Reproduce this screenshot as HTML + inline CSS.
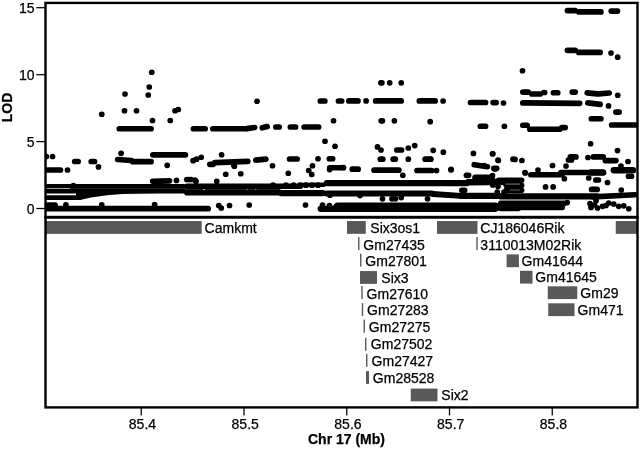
<!DOCTYPE html>
<html><head><meta charset="utf-8"><title>LOD plot Chr 17</title>
<style>
html,body{margin:0;padding:0;background:#fff;}
svg{display:block}
svg text{font-family:"Liberation Sans",sans-serif;font-size:14px;fill:#000;stroke:#000;stroke-width:0.25px}
</style></head><body>
<svg width="640" height="452" viewBox="0 0 640 452">
<rect width="640" height="452" fill="#fff"/>
<defs><clipPath id="cp"><rect x="45" y="2" width="593" height="215"/></clipPath></defs>
<g clip-path="url(#cp)">
<g fill="#000" stroke="none">
<circle cx="151.75" cy="72.25" r="2.85"/>
<circle cx="149.25" cy="87" r="2.85"/>
<circle cx="148.25" cy="95" r="2.85"/>
<circle cx="125" cy="94" r="2.85"/>
<circle cx="124.5" cy="110.75" r="2.85"/>
<circle cx="136.5" cy="110.75" r="2.85"/>
<circle cx="101.75" cy="114.25" r="2.85"/>
<circle cx="175" cy="110.75" r="2.85"/>
<circle cx="178.25" cy="109.5" r="2.85"/>
<circle cx="152.5" cy="120.5" r="2.85"/>
<circle cx="170.25" cy="120.5" r="2.85"/>
<circle cx="121.1" cy="153.3" r="2.85"/>
<circle cx="46.3" cy="156.5" r="2.85"/>
<circle cx="52.5" cy="156.5" r="2.85"/>
<circle cx="98.5" cy="166.9" r="2.85"/>
<circle cx="67.5" cy="170" r="2.85"/>
<circle cx="167.2" cy="165.3" r="2.85"/>
<circle cx="176.5" cy="180.4" r="2.85"/>
<circle cx="186.8" cy="179.5" r="2.85"/>
<circle cx="189" cy="179.5" r="2.85"/>
<circle cx="196" cy="181.25" r="2.85"/>
<circle cx="73.4" cy="185.6" r="2.85"/>
<circle cx="273" cy="185.2" r="2.85"/>
<circle cx="286" cy="185.2" r="2.85"/>
<circle cx="293.5" cy="185.2" r="2.85"/>
<circle cx="300" cy="185.2" r="2.85"/>
<circle cx="306" cy="185.2" r="2.85"/>
<circle cx="312" cy="185.2" r="2.85"/>
<circle cx="318" cy="185.2" r="2.85"/>
<circle cx="65.9" cy="204.9" r="2.85"/>
<circle cx="101.75" cy="204.9" r="2.85"/>
<circle cx="154.6" cy="204.5" r="2.85"/>
<circle cx="257" cy="101.25" r="2.85"/>
<circle cx="333.5" cy="120.75" r="2.85"/>
<circle cx="325" cy="141.25" r="2.85"/>
<circle cx="335" cy="146.25" r="2.85"/>
<circle cx="221.6" cy="154.75" r="2.85"/>
<circle cx="193.1" cy="160.7" r="2.85"/>
<circle cx="196.5" cy="159.2" r="2.85"/>
<circle cx="201.25" cy="157.25" r="2.85"/>
<circle cx="234.4" cy="166.25" r="2.85"/>
<circle cx="318" cy="158.75" r="2.85"/>
<circle cx="233.75" cy="165" r="2.85"/>
<circle cx="272.5" cy="165.75" r="2.85"/>
<circle cx="312.5" cy="165.75" r="2.85"/>
<circle cx="308.75" cy="170.5" r="2.85"/>
<circle cx="311.75" cy="174.5" r="2.85"/>
<circle cx="225.75" cy="174.25" r="2.85"/>
<circle cx="240.75" cy="173.75" r="2.85"/>
<circle cx="288.25" cy="173.25" r="2.85"/>
<circle cx="329.6" cy="169.6" r="2.85"/>
<circle cx="191" cy="179.5" r="2.85"/>
<circle cx="195" cy="180" r="2.85"/>
<circle cx="216.75" cy="181.25" r="2.85"/>
<circle cx="218.75" cy="205.5" r="2.85"/>
<circle cx="221.25" cy="208" r="2.85"/>
<circle cx="229.5" cy="205.5" r="2.85"/>
<circle cx="249.25" cy="205" r="2.85"/>
<circle cx="305.5" cy="205" r="2.85"/>
<circle cx="322.5" cy="205" r="2.85"/>
<circle cx="329.5" cy="205.6" r="2.85"/>
<circle cx="380.9" cy="82.8" r="2.85"/>
<circle cx="381.9" cy="82.8" r="2.85"/>
<circle cx="389.7" cy="82.8" r="2.85"/>
<circle cx="401.25" cy="82.8" r="2.85"/>
<circle cx="366.1" cy="100.9" r="2.85"/>
<circle cx="443.1" cy="101" r="2.85"/>
<circle cx="503.5" cy="103" r="2.85"/>
<circle cx="381.2" cy="120.8" r="2.85"/>
<circle cx="382.4" cy="120.8" r="2.85"/>
<circle cx="394.4" cy="120.8" r="2.85"/>
<circle cx="430.2" cy="121.7" r="2.85"/>
<circle cx="504.4" cy="126.25" r="2.85"/>
<circle cx="377.5" cy="146.9" r="2.85"/>
<circle cx="381" cy="150" r="2.85"/>
<circle cx="408.3" cy="148" r="2.85"/>
<circle cx="414.7" cy="145.6" r="2.85"/>
<circle cx="433.2" cy="150.3" r="2.85"/>
<circle cx="443.3" cy="152.2" r="2.85"/>
<circle cx="473.4" cy="153.4" r="2.85"/>
<circle cx="492.8" cy="153.75" r="2.85"/>
<circle cx="408.3" cy="159.2" r="2.85"/>
<circle cx="430.8" cy="159.2" r="2.85"/>
<circle cx="498.3" cy="160.5" r="2.85"/>
<circle cx="402.8" cy="175.3" r="2.85"/>
<circle cx="436.5" cy="170.6" r="2.85"/>
<circle cx="451.1" cy="169.8" r="2.85"/>
<circle cx="330" cy="195.2" r="2.85"/>
<circle cx="360" cy="195.6" r="2.85"/>
<circle cx="382.5" cy="198.8" r="2.85"/>
<circle cx="392" cy="198.8" r="2.85"/>
<circle cx="395.5" cy="198.8" r="2.85"/>
<circle cx="427.5" cy="198.8" r="2.85"/>
<circle cx="401.25" cy="197.6" r="2.85"/>
<circle cx="451" cy="169.4" r="2.85"/>
<circle cx="492.5" cy="175.6" r="2.85"/>
<circle cx="492.75" cy="185" r="2.85"/>
<circle cx="498" cy="186.5" r="2.85"/>
<circle cx="497.3" cy="192" r="2.85"/>
<circle cx="504" cy="192" r="2.85"/>
<circle cx="611" cy="53" r="2.85"/>
<circle cx="617.7" cy="57.2" r="2.85"/>
<circle cx="522.5" cy="70.75" r="2.85"/>
<circle cx="617.75" cy="95.25" r="2.85"/>
<circle cx="608.5" cy="105.9" r="2.85"/>
<circle cx="590.6" cy="143.75" r="2.85"/>
<circle cx="617.5" cy="150.6" r="2.85"/>
<circle cx="492.5" cy="153.75" r="2.85"/>
<circle cx="498" cy="160" r="2.85"/>
<circle cx="513" cy="159.2" r="2.85"/>
<circle cx="515" cy="159.4" r="2.85"/>
<circle cx="521.9" cy="160.5" r="2.85"/>
<circle cx="525.3" cy="173" r="2.85"/>
<circle cx="588" cy="157.5" r="2.85"/>
<circle cx="628" cy="161.5" r="2.85"/>
<circle cx="552.5" cy="165.5" r="2.85"/>
<circle cx="566" cy="166" r="2.85"/>
<circle cx="538" cy="170" r="2.85"/>
<circle cx="621" cy="166" r="2.85"/>
<circle cx="525" cy="172.5" r="2.85"/>
<circle cx="484" cy="165.5" r="2.85"/>
<circle cx="495" cy="169" r="2.85"/>
<circle cx="564.4" cy="178.75" r="2.85"/>
<circle cx="588.75" cy="178" r="2.85"/>
<circle cx="607.5" cy="182.5" r="2.85"/>
<circle cx="628.5" cy="176.25" r="2.85"/>
<circle cx="631.5" cy="176.25" r="2.85"/>
<circle cx="545.6" cy="186.9" r="2.85"/>
<circle cx="553.1" cy="186.9" r="2.85"/>
<circle cx="621.25" cy="190" r="2.85"/>
<circle cx="567.2" cy="202.6" r="2.85"/>
<circle cx="596" cy="200.8" r="2.85"/>
<circle cx="591" cy="207.5" r="2.85"/>
<circle cx="597.5" cy="208" r="2.85"/>
<circle cx="602.5" cy="206.3" r="2.85"/>
<circle cx="608.75" cy="203" r="2.85"/>
<circle cx="613.75" cy="204" r="2.85"/>
<circle cx="618.75" cy="206.3" r="2.85"/>
<circle cx="623.75" cy="205.8" r="2.85"/>
<circle cx="628.75" cy="208.75" r="2.85"/>
<circle cx="590" cy="203.5" r="2.85"/>
<circle cx="594.5" cy="205" r="2.85"/>
<circle cx="606" cy="205.5" r="2.85"/>
<polygon points="76,190 76,200 80,200 91,197.5 107,195.2 122.5,194.1 138,193.4 160,192.9 160,190"/>
</g>
<g stroke="#000" stroke-linecap="round" fill="none">
<line x1="119.25" y1="128.75" x2="151.05" y2="128.75" stroke-width="5.7"/>
<line x1="152.85" y1="154.8" x2="185.45" y2="154.8" stroke-width="5.7"/>
<line x1="117.65" y1="159.5" x2="131.15" y2="160.5" stroke-width="5.7"/>
<line x1="132.85" y1="161.7" x2="151.05" y2="161.7" stroke-width="5.7"/>
<line x1="74.75" y1="161.5" x2="78.15" y2="161.5" stroke-width="5.7"/>
<line x1="91.25" y1="161.5" x2="94.55" y2="161.5" stroke-width="5.7"/>
<line x1="47.85" y1="170" x2="60.45" y2="170" stroke-width="5.7"/>
<line x1="152.65" y1="181.3" x2="169.45" y2="180.9" stroke-width="5.7"/>
<line x1="47.4" y1="186.4" x2="183.6" y2="186.4" stroke-width="4.8"/>
<line x1="47.5" y1="191.1" x2="183.5" y2="191.1" stroke-width="5"/>
<line x1="187" y1="186.6" x2="279" y2="186.6" stroke-width="6"/>
<line x1="187.1" y1="192.4" x2="278.9" y2="192.4" stroke-width="6.2"/>
<line x1="280.8" y1="186.3" x2="300.2" y2="186.3" stroke-width="5.6"/>
<line x1="300.2" y1="185" x2="323.8" y2="184.7" stroke-width="4.4"/>
<line x1="281.15" y1="193.1" x2="322.85" y2="193.1" stroke-width="6.3"/>
<line x1="47.4" y1="197.6" x2="79.6" y2="197.6" stroke-width="4.8"/>
<line x1="47.9" y1="208.7" x2="208.1" y2="208.7" stroke-width="5.8"/>
<line x1="47.9" y1="205.2" x2="55.1" y2="205.2" stroke-width="5.8"/>
<line x1="320.35" y1="101" x2="324.85" y2="101" stroke-width="5.7"/>
<line x1="338.45" y1="101" x2="341.65" y2="101" stroke-width="5.7"/>
<line x1="193.45" y1="128.75" x2="205.15" y2="128.75" stroke-width="5.7"/>
<line x1="212.85" y1="128.75" x2="245.15" y2="128.75" stroke-width="5.7"/>
<line x1="246.85" y1="128.6" x2="254.65" y2="127.5" stroke-width="5.7"/>
<line x1="262.25" y1="127.8" x2="267.15" y2="126.6" stroke-width="5.7"/>
<line x1="275.85" y1="127" x2="279.15" y2="127" stroke-width="5.7"/>
<line x1="290.35" y1="127" x2="295.55" y2="127" stroke-width="5.7"/>
<line x1="304.1" y1="127" x2="318.65" y2="127" stroke-width="5.7"/>
<line x1="209.85" y1="164.3" x2="213.15" y2="164.3" stroke-width="5.7"/>
<line x1="214.85" y1="162.6" x2="247.75" y2="161.3" stroke-width="5.7"/>
<line x1="255.85" y1="160.2" x2="265.9" y2="159.2" stroke-width="5.7"/>
<line x1="289.55" y1="159" x2="297.15" y2="159" stroke-width="5.7"/>
<line x1="329.35" y1="158.75" x2="332.65" y2="158.75" stroke-width="5.7"/>
<line x1="329.75" y1="167.75" x2="343.4" y2="167.75" stroke-width="5.7"/>
<line x1="320.6" y1="208.8" x2="341.9" y2="208.8" stroke-width="6.2"/>
<line x1="337.7" y1="207.2" x2="495.3" y2="207.2" stroke-width="9.4"/>
<line x1="348.85" y1="100.9" x2="357.95" y2="100.9" stroke-width="5.7"/>
<line x1="375.65" y1="100.9" x2="401.15" y2="100.9" stroke-width="5.7"/>
<line x1="419.35" y1="100.9" x2="435.15" y2="100.9" stroke-width="5.7"/>
<line x1="470.55" y1="102.5" x2="485.55" y2="102.5" stroke-width="5.7"/>
<line x1="493.15" y1="102.6" x2="496.15" y2="102.6" stroke-width="5.7"/>
<line x1="480.35" y1="126.25" x2="485.55" y2="126.25" stroke-width="5.7"/>
<line x1="396.85" y1="150" x2="401.55" y2="150" stroke-width="5.7"/>
<line x1="380.35" y1="159.2" x2="382.75" y2="159.2" stroke-width="5.7"/>
<line x1="393.15" y1="159.2" x2="395.25" y2="159.2" stroke-width="5.7"/>
<line x1="425.15" y1="159.2" x2="430.45" y2="159.2" stroke-width="5.7"/>
<line x1="342.85" y1="167.5" x2="343.4" y2="167.5" stroke-width="5.7"/>
<line x1="352.25" y1="169.2" x2="358.15" y2="169.2" stroke-width="5.7"/>
<line x1="374.1" y1="170.2" x2="398.85" y2="170.2" stroke-width="5.7"/>
<line x1="417.05" y1="170.5" x2="431.65" y2="170.5" stroke-width="5.7"/>
<line x1="474.25" y1="164.7" x2="487.35" y2="166.7" stroke-width="5.7"/>
<line x1="493.85" y1="168.3" x2="496.65" y2="168.3" stroke-width="5.7"/>
<line x1="326.85" y1="183.1" x2="466.9" y2="183.1" stroke-width="6.2"/>
<line x1="326.85" y1="193.5" x2="431.9" y2="193.5" stroke-width="6.2"/>
<line x1="432.9" y1="194" x2="461.1" y2="195.9" stroke-width="5.8"/>
<line x1="461.1" y1="195.9" x2="498.9" y2="195.9" stroke-width="6.2"/>
<line x1="466.45" y1="175.3" x2="468.55" y2="175.3" stroke-width="5.7"/>
<line x1="475.4" y1="177.7" x2="491.6" y2="177.7" stroke-width="6.4"/>
<line x1="468.2" y1="182.2" x2="516.8" y2="181.7" stroke-width="6.4"/>
<line x1="461.85" y1="190.3" x2="464.65" y2="190.3" stroke-width="5.7"/>
<line x1="567.45" y1="10.6" x2="575.15" y2="10.6" stroke-width="5.7"/>
<line x1="578.85" y1="11.9" x2="600.9" y2="11.9" stroke-width="5.7"/>
<line x1="611.25" y1="11.1" x2="617.45" y2="11.1" stroke-width="5.7"/>
<line x1="567.45" y1="50.3" x2="575.15" y2="50.3" stroke-width="5.7"/>
<line x1="578.85" y1="52.4" x2="600.15" y2="52.4" stroke-width="5.7"/>
<line x1="522.85" y1="92.1" x2="528.15" y2="92.1" stroke-width="5.7"/>
<line x1="531.85" y1="94" x2="540.15" y2="94" stroke-width="5.7"/>
<line x1="543.85" y1="92.5" x2="544.65" y2="92.5" stroke-width="5.7"/>
<line x1="553.45" y1="92.75" x2="557.75" y2="92.75" stroke-width="5.7"/>
<line x1="572.25" y1="92.1" x2="575.15" y2="92.1" stroke-width="5.7"/>
<line x1="587.25" y1="92.8" x2="597.15" y2="93.8" stroke-width="5.7"/>
<line x1="598.85" y1="93.8" x2="609.15" y2="93" stroke-width="5.7"/>
<line x1="522.85" y1="102.9" x2="579.65" y2="103.3" stroke-width="5.7"/>
<line x1="587.85" y1="102.9" x2="600.15" y2="104.4" stroke-width="5.7"/>
<line x1="615.85" y1="112.1" x2="619.15" y2="112.1" stroke-width="5.7"/>
<line x1="591.35" y1="118.75" x2="600.9" y2="118.75" stroke-width="5.7"/>
<line x1="522.85" y1="125.25" x2="527.15" y2="125.25" stroke-width="5.7"/>
<line x1="529.85" y1="129.25" x2="559.65" y2="129.25" stroke-width="5.7"/>
<line x1="561.85" y1="127.6" x2="565.15" y2="127.6" stroke-width="5.7"/>
<line x1="611.6" y1="125" x2="635.15" y2="125" stroke-width="5.7"/>
<line x1="570.35" y1="156.9" x2="575.9" y2="156.9" stroke-width="5.7"/>
<line x1="568.45" y1="160" x2="571.55" y2="160" stroke-width="5.7"/>
<line x1="593.45" y1="156.9" x2="603.15" y2="156.9" stroke-width="5.7"/>
<line x1="605.35" y1="160.6" x2="615.9" y2="160.6" stroke-width="5.7"/>
<line x1="530.85" y1="174.75" x2="562.15" y2="174.75" stroke-width="5.7"/>
<line x1="560.85" y1="172.5" x2="603.4" y2="172.5" stroke-width="5.7"/>
<line x1="591.2" y1="172.5" x2="603.05" y2="172.5" stroke-width="6.4"/>
<line x1="613.9" y1="170.3" x2="632.95" y2="170.3" stroke-width="6.6"/>
<line x1="595.85" y1="180" x2="598.4" y2="180" stroke-width="5.7"/>
<line x1="591.6" y1="189.4" x2="597.15" y2="189.4" stroke-width="5.7"/>
<line x1="498.8" y1="180.3" x2="521.6" y2="180.3" stroke-width="5.6"/>
<line x1="506.3" y1="185.4" x2="521.6" y2="185.4" stroke-width="5.6"/>
<line x1="506.3" y1="190.2" x2="521.6" y2="190.2" stroke-width="5.6"/>
<line x1="501.2" y1="196.4" x2="596.8" y2="196.4" stroke-width="6.4"/>
<line x1="592.8" y1="196.9" x2="635.2" y2="194.8" stroke-width="5.6"/>
<line x1="500.8" y1="203.4" x2="564.2" y2="203.4" stroke-width="5.6"/>
<line x1="500.7" y1="207.6" x2="562.3" y2="207.6" stroke-width="5.4"/>
<line x1="500.7" y1="208.6" x2="518.3" y2="208.6" stroke-width="5.4"/>
</g>
<rect x="203" y="189.3" width="2" height="0.8" fill="#ddd"/><rect x="246.4" y="188.9" width="1.3" height="0.8" fill="#bbb"/><rect x="255" y="188.9" width="1.3" height="0.8" fill="#bbb"/>
<rect x="47" y="188.35" width="23" height="0.6" fill="#fff"/>
<rect x="505.5" y="183.6" width="14.5" height="0.9" fill="#8a8a8a"/><rect x="510" y="189.6" width="10" height="0.8" fill="#777"/>
</g>
<rect x="45" y="221.05" width="156.7" height="12.8" fill="#595959"/>
<text x="204.6" y="232.9">Camkmt</text>
<rect x="347" y="221.05" width="18.75" height="12.8" fill="#595959"/>
<text x="370.35" y="232.9">Six3os1</text>
<rect x="437" y="221.05" width="40.5" height="12.8" fill="#595959"/>
<text x="480.35" y="232.9">CJ186046Rik</text>
<rect x="615.75" y="221.05" width="22.25" height="12.8" fill="#595959"/>
<rect x="360" y="271.05" width="17" height="12.8" fill="#595959"/>
<text x="381.35" y="282.7">Six3</text>
<rect x="506.6" y="254.4" width="12.3" height="12.8" fill="#595959"/>
<text x="521.6" y="265.9">Gm41644</text>
<rect x="520" y="270.8" width="12.5" height="12.8" fill="#595959"/>
<text x="535.35" y="282.4">Gm41645</text>
<rect x="547.75" y="286.3" width="29.5" height="12.8" fill="#595959"/>
<text x="580.35" y="297.9">Gm29</text>
<rect x="548.25" y="303.3" width="26.25" height="12.8" fill="#595959"/>
<text x="577.6" y="314.9">Gm471</text>
<rect x="366" y="371.1" width="3" height="12.8" fill="#595959"/>
<text x="372.85" y="383.2">Gm28528</text>
<rect x="410.75" y="388.55" width="26.75" height="12.8" fill="#595959"/>
<text x="441.35" y="400.4">Six2</text>
<rect x="358.05" y="237.1" width="1.4" height="13" fill="#595959"/>
<text x="363.35" y="249.7">Gm27435</text>
<rect x="360.05" y="253.6" width="1.4" height="13" fill="#595959"/>
<text x="365.35" y="266.1">Gm27801</text>
<rect x="361.3" y="286" width="1.4" height="13" fill="#595959"/>
<text x="366.6" y="298.7">Gm27610</text>
<rect x="361.8" y="303.1" width="1.4" height="13" fill="#595959"/>
<text x="367.1" y="315.4">Gm27283</text>
<rect x="363.55" y="319.6" width="1.4" height="13" fill="#595959"/>
<text x="368.85" y="332.4">Gm27275</text>
<rect x="365.05" y="337.8" width="1.4" height="13" fill="#595959"/>
<text x="370.85" y="349.4">Gm27502</text>
<rect x="366.05" y="353.8" width="1.4" height="13" fill="#595959"/>
<text x="371.6" y="365.9">Gm27427</text>
<rect x="476.3" y="237.1" width="1.4" height="13" fill="#595959"/>
<text x="480.35" y="249.7">3110013M02Rik</text>
<rect x="45.5" y="2.9" width="592" height="214.1" fill="none" stroke="#000" stroke-width="2.4"/>
<rect x="45.5" y="217.5" width="592" height="189.9" fill="none" stroke="#000" stroke-width="2.4"/>
<line x1="36.3" y1="7.7" x2="45" y2="7.7" stroke="#000" stroke-width="1.25"/>
<text x="34.5" y="12.7" text-anchor="end">15</text>
<line x1="36.3" y1="74.7" x2="45" y2="74.7" stroke="#000" stroke-width="1.25"/>
<text x="34.5" y="79.7" text-anchor="end">10</text>
<line x1="36.3" y1="141.6" x2="45" y2="141.6" stroke="#000" stroke-width="1.25"/>
<text x="34.5" y="146.6" text-anchor="end">5</text>
<line x1="36.3" y1="208.5" x2="45" y2="208.5" stroke="#000" stroke-width="1.25"/>
<text x="34.5" y="213.5" text-anchor="end">0</text>
<line x1="141.25" y1="407" x2="141.25" y2="415.5" stroke="#000" stroke-width="1.25"/>
<text x="142.45" y="429.4" text-anchor="middle">85.4</text>
<line x1="244" y1="407" x2="244" y2="415.5" stroke="#000" stroke-width="1.25"/>
<text x="245.2" y="429.4" text-anchor="middle">85.5</text>
<line x1="346.75" y1="407" x2="346.75" y2="415.5" stroke="#000" stroke-width="1.25"/>
<text x="347.95" y="429.4" text-anchor="middle">85.6</text>
<line x1="449.5" y1="407" x2="449.5" y2="415.5" stroke="#000" stroke-width="1.25"/>
<text x="450.7" y="429.4" text-anchor="middle">85.7</text>
<line x1="552.25" y1="407" x2="552.25" y2="415.5" stroke="#000" stroke-width="1.25"/>
<text x="553.45" y="429.4" text-anchor="middle">85.8</text>
<text x="346.5" y="444" text-anchor="middle" font-weight="bold" font-size="13">Chr 17 (Mb)</text>
<text transform="translate(12.2,107.5) rotate(-90)" text-anchor="middle" font-weight="bold" font-size="13">LOD</text>
</svg>
</body></html>
